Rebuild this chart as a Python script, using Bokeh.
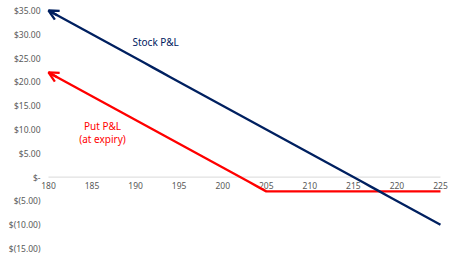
from bokeh.plotting import figure
from bokeh.models import Range1d, Arrow, OpenHead
from bokeh.core.properties import value
from bokeh.embed import file_html
from bokeh.resources import INLINE

# Data
prices = [180, 181, 182, 183, 184, 185, 186, 187, 188, 189, 190, 191, 192, 193, 194, 195,
          196, 197, 198, 199, 200, 201, 202, 203, 204, 205, 206, 207, 208, 209, 210, 211,
          212, 213, 214, 215, 216, 217, 218, 219, 220, 221, 222, 223, 224, 225]
stock_pnl = [35, 34, 33, 32, 31, 30, 29, 28, 27, 26, 25, 24, 23, 22, 21, 20,
             19, 18, 17, 16, 15, 14, 13, 12, 11, 10, 9, 8, 7, 6, 5, 4,
             3, 2, 1, 0, -1, -2, -3, -4, -5, -6, -7, -8, -9, -10]
put_pnl = [22, 21, 20, 19, 18, 17, 16, 15, 14, 13, 12, 11, 10, 9, 8, 7,
           6, 5, 4, 3, 2, 1, 0, -1, -2, -3, -3, -3, -3, -3, -3, -3,
           -3, -3, -3, -3, -3, -3, -3, -3, -3, -3, -3, -3, -3, -3]
x_ticks = [180, 185, 190, 195, 200, 205, 210, 215, 220, 225]
x_tick_labels = [str(t) for t in x_ticks]
y_ticks = [35, 30, 25, 20, 15, 10, 5, 0, -5, -10, -15]
y_tick_labels = ["$35.00", "$30.00", "$25.00", "$20.00", "$15.00", "$10.00", "$5.00",
                 "$-", "$(5.00)", "$(10.00)", "$(15.00)"]

NAVY = "#002060"
RED = "#FF0000"
GRAY = "#595959"
FONT = "Noto Sans"

p = figure(width=454, height=254, output_backend="svg", toolbar_location=None,
           x_range=Range1d(174.49, 226.61), y_range=Range1d(-16.26, 37.10),
           min_border=0)
p.outline_line_color = None
p.grid.visible = False
p.axis.visible = False
p.background_fill_color = "white"

# y tick labels (right-aligned left of the plot)
p.text(x=[x_ticks[0]] * len(y_ticks), y=y_ticks, text=y_tick_labels, text_align="right",
       text_baseline="middle", x_offset=-8, text_color=GRAY, text_font=value(FONT),
       text_font_size="8.5px")

# zero axis line
p.line([min(x_ticks), max(x_ticks)], [0, 0], line_color="#D9D9D9", line_width=1)
# x tick labels along zero line
p.text(x=x_ticks, y=[0] * len(x_ticks), text=x_tick_labels, text_align="center",
       text_baseline="top", y_offset=5, text_color=GRAY, text_font=value(FONT),
       text_font_size="8.5px")

p.line(prices, put_pnl, line_color=RED, line_width=2.3)
p.line(prices, stock_pnl, line_color=NAVY, line_width=2.3)

p.add_layout(Arrow(end=OpenHead(size=10, line_color=NAVY, line_width=2.3),
                   line_color=NAVY, line_width=2.3,
                   x_start=prices[1], y_start=stock_pnl[1], x_end=prices[0], y_end=stock_pnl[0]))
p.add_layout(Arrow(end=OpenHead(size=10, line_color=RED, line_width=2.3),
                   line_color=RED, line_width=2.3,
                   x_start=prices[1], y_start=put_pnl[1], x_end=prices[0], y_end=put_pnl[0]))

p.text(x=[192.3], y=[28.3], text=["Stock P&L"], text_align="center", text_baseline="middle",
       text_color=NAVY, text_font=value(FONT), text_font_size="10px")
p.text(x=[186.2, 186.2], y=[10.8, 8.1], text=["Put P&L", "(at expiry)"], text_align="center",
       text_baseline="middle", text_color=RED, text_font=value(FONT), text_font_size="10px")

open("out.html", "w").write(file_html(p, INLINE))
